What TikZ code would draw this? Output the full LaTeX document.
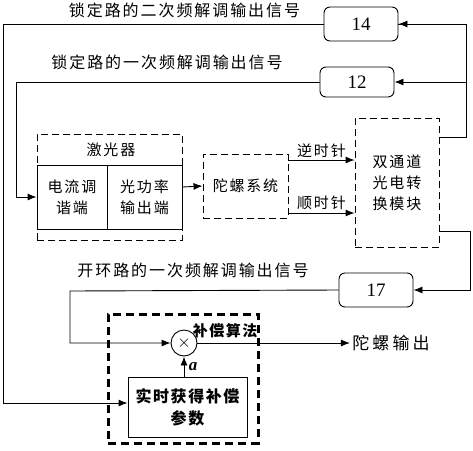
\documentclass[tikz,border=0pt]{standalone}
\usepackage{fontspec}
\setmainfont{Noto Sans CJK SC}[LetterSpace=12]
\newfontfamily\numfont{Liberation Serif}
\newfontfamily\widefont{Noto Sans CJK SC}[LetterSpace=18]
\newfontfamily\boldcjk{Noto Sans CJK SC}[LetterSpace=10]
\usepackage{tikz}
\usetikzlibrary{positioning}
\usetikzlibrary{arrows.meta}
\usetikzlibrary{calc}

\begin{document}
\begin{tikzpicture}[x=1pt,y=-1pt,line width=0.9pt,>={Latex[length=9pt,width=7pt]},
                    font=\fontsize{15}{21}\selectfont]
	\useasboundingbox (0,0) rectangle (473,450);

	% filters
	\begin{scope}[every node/.style={draw,rounded corners=6pt,line width=0.9pt,minimum width=74pt,
	              minimum height=34pt,font=\numfont\fontsize{19}{20}\selectfont}]
	    \node (F14) at (361,24) {14};
	    \node (F12) [minimum height=30pt] at (357,82) {12};
	    \node (F17) at (376,290) {17};
	\end{scope}

	% laser and gyro blocks
	\begin{scope}[every node/.style={align=center,inner sep=0pt}]
	    \node (laser) [draw,dash pattern=on 7pt off 4pt,minimum width=145pt,minimum height=106pt] at (109.5,187) {};
	    \node (lasertxt) at (111,150) {激光器};
	    \node (tune) [draw,minimum width=70pt,minimum height=64pt] at (72,197) {电流调\\谐端};
	    \node (pout) [draw,minimum width=75pt,minimum height=64pt] at (144.5,197) {光功率\\输出端};
	    \node (gyro) [draw,dash pattern=on 7pt off 4pt,minimum width=85pt,minimum height=64pt] at (245.5,186) {陀螺系统};
	    \node (dual) [draw,dash pattern=on 7pt off 4pt,minimum width=84pt,minimum height=129pt] at (397,182.5) {双通道\\光电转\\换模块};
	\end{scope}

	% compensation
	\node (algo) [draw,line width=3pt,dash pattern=on 8pt off 5pt,minimum width=150pt,minimum height=129pt] at (183,378.5) {};
	\node (mul) [draw,circle,minimum size=26pt,inner sep=0pt,font=\fontsize{18}{18}\selectfont] at (184,343) {$\times$};
	\node (comp) [draw,align=center,minimum width=119pt,minimum height=60pt,
	              font=\boldcjk\bfseries\fontsize{16}{22}\selectfont] at (187.5,407) {实时获得补偿\\参数};
	\node (algotxt) [font=\boldcjk\bfseries\fontsize{15}{16}\selectfont,inner sep=0pt] at (225,331) {补偿算法};
	\node (out) [font=\widefont\fontsize{17}{18}\selectfont,inner sep=2pt] at (391,343) {陀螺输出};

	% signal names
	\begin{scope}[every node/.style={font=\fontsize{16}{18}\selectfont}]
	    \node (sig2) [fill=white,inner xsep=7pt,minimum height=32pt] at (184.5,10) {锁定路的二次频解调输出信号};
	    \node (sig1) at (167,62) {锁定路的一次频解调输出信号};
	    \node (sigo) at (193,270) {开环路的一次频解调输出信号};
	\end{scope}

	\coordinate (rtop) at (466,137);
	\coordinate (rbot) at (470,231);
	\coordinate (lout) at (3,24);
	\coordinate (lin) at (16,82);
	\coordinate (lopen) at (70,291);
	\coordinate (ccw) at ($(gyro.east)+(0,-26)$);
	\coordinate (cw) at ($(gyro.east)+(0,27)$);

	\draw (dual.east |- rtop) -- (rtop) |- (F14.east);
	\draw[->] (rtop |- F14.east) -- (F14.east);
	\draw[->] (rtop |- F12.east) -- (F12.east);
	\draw[->] (dual.east |- rbot) -- (rbot) |- (F17.east);
	\draw[->] (F14.west) -- (lout) |- ($(comp.west)+(0,-4)$);
	\draw[->] (F12.west) -- (lin) |- (tune.west);
	\draw[->] (F17.west) -- (lopen) |- (mul.west);
	\draw[->] (laser.east) -- (gyro.west);
	\draw[->] (ccw) -- (ccw -| dual.west) node[midway,above=-1pt] {逆时针};
	\draw[->] (cw) -- (cw -| dual.west) node[midway,above=-1pt] {顺时针};
	\draw[->] (comp.north -| mul) -- (mul.south) node[midway,right=1pt] {\numfont\bfseries\itshape\fontsize{17}{18}\selectfont a};
	\draw[->] (mul.east) -- (out.west);
\end{tikzpicture}
\end{document}
